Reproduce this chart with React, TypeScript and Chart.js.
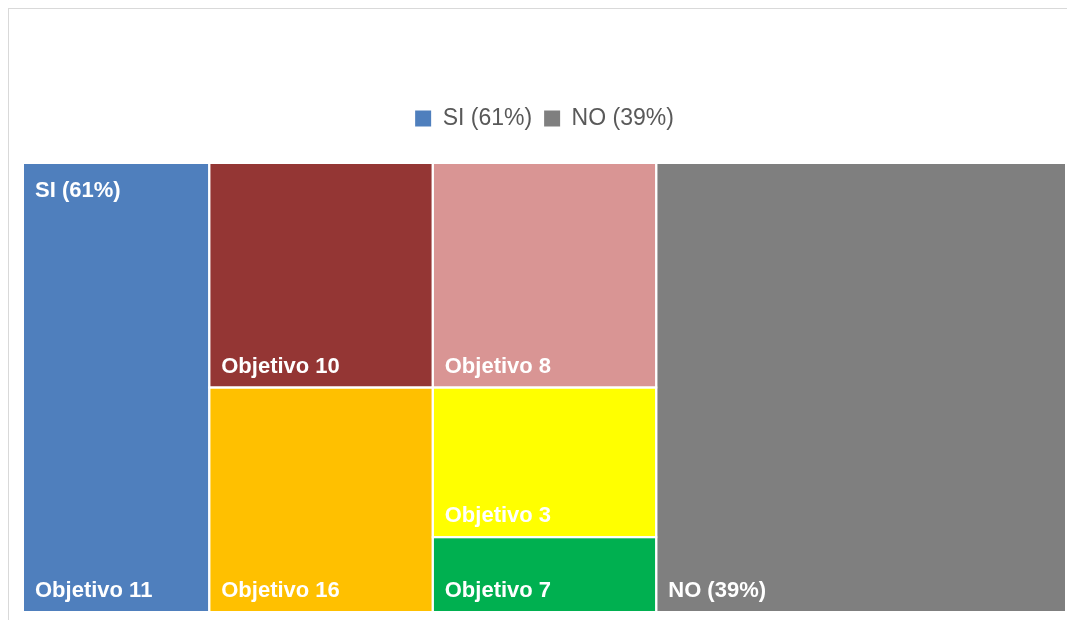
import React, { useEffect, useRef } from "react";
import { Chart, registerables } from "chart.js";

Chart.register(...registerables);

// ---- data ----
const groupLabels = ["SI (61%)", "NO (39%)"];
const groupColors = ["#4F7FBD", "#7F7F7F"];
const noValue = 11;
const siItems = ["Objetivo 11", "Objetivo 10", "Objetivo 16", "Objetivo 8", "Objetivo 3", "Objetivo 7"];
const siValues = [5, 3, 3, 3, 2, 1];
const siColors = ["#4F7FBD", "#943634", "#FFC000", "#D99594", "#FFFF00", "#00B050"];
// treemap grouping of SI leaves into columns (indices into siItems)
const siColumns = [[0], [1, 2], [3, 4, 5]];

const FONT = '"Liberation Sans", Arial, Helvetica, sans-serif';

const sum = (a: number[]) => a.reduce((s, v) => s + v, 0);

const treemapPlugin = {
  id: "treemapCells",
  beforeInit(chart: any) {
    const legend = chart.legend;
    if (legend) {
      const orig = legend.fit;
      legend.fit = function () {
        orig.call(this);
        this.height += 23;
      };
    }
  },
  afterDatasetsDraw(chart: any) {
    const { ctx, scales } = chart;
    const xs = scales.x;
    const ys = scales.y;
    const siTotal = sum(siValues);
    const total = siTotal + noValue;
    const px = (v: number) => xs.getPixelForValue(v);
    const py = (f: number) => ys.getPixelForValue(1 - f);

    type Cell = { x0: number; x1: number; y0: number; y1: number; color: string; label: string };
    const cells: Cell[] = [];
    let cx = 0;
    siColumns.forEach((col) => {
      const colSum = sum(col.map((i) => siValues[i]));
      let cy = 0;
      col.forEach((i) => {
        const f = siValues[i] / colSum;
        cells.push({
          x0: px(cx),
          x1: px(cx + colSum),
          y0: py(cy),
          y1: py(cy + f),
          color: siColors[i],
          label: siItems[i],
        });
        cy += f;
      });
      cx += colSum;
    });
    cells.push({
      x0: px(siTotal),
      x1: px(total),
      y0: py(0),
      y1: py(1),
      color: groupColors[1],
      label: groupLabels[1],
    });

    ctx.save();
    cells.forEach((c) => {
      ctx.fillStyle = c.color;
      ctx.fillRect(c.x0, c.y0, c.x1 - c.x0, c.y1 - c.y0);
    });
    ctx.strokeStyle = "#FFFFFF";
    ctx.lineWidth = 2;
    cells.forEach((c) => {
      ctx.strokeRect(c.x0, c.y0, c.x1 - c.x0, c.y1 - c.y0);
    });
    ctx.fillStyle = "#FFFFFF";
    ctx.font = `bold 22px ${FONT}`;
    ctx.textAlign = "left";
    ctx.textBaseline = "alphabetic";
    cells.forEach((c) => {
      ctx.fillText(c.label, c.x0 + 12, c.y1 - 15);
    });
    // parent label
    ctx.textBaseline = "top";
    ctx.fillText(groupLabels[0], px(0) + 12, py(0) + 17);
    ctx.restore();
  },
};

export default function App() {
  const ref = useRef<HTMLCanvasElement | null>(null);
  useEffect(() => {
    if (!ref.current) return;
    const chart = new Chart(ref.current, {
      type: "scatter",
      data: {
        datasets: [
          { label: groupLabels[0], data: [], backgroundColor: groupColors[0], borderColor: groupColors[0], borderWidth: 0 },
          { label: groupLabels[1], data: [], backgroundColor: groupColors[1], borderColor: groupColors[1], borderWidth: 0 },
        ],
      },
      options: {
        responsive: false,
        animation: false,
        devicePixelRatio: 1,
        layout: { padding: { top: 86, left: 14, right: 11, bottom: 17 } },
        scales: {
          x: { type: "linear", min: 0, max: sum(siValues) + noValue, offset: false, display: false },
          y: { type: "linear", min: 0, max: 1, offset: false, display: false },
        },
        plugins: {
          legend: {
            position: "top",
            onClick: () => {},
            labels: {
              boxWidth: 16,
              boxHeight: 16,
              padding: 12,
              color: "#595959",
              font: { size: 23, family: FONT },
            },
          },
          tooltip: { enabled: false },
        },
      },
      plugins: [treemapPlugin],
    } as any);
    return () => chart.destroy();
  }, []);
  return (
    <div
      style={{
        position: "fixed",
        left: 8,
        top: 8,
        width: 1068,
        height: 640,
        border: "1px solid #D9D9D9",
        background: "#FFFFFF",
      }}
    >
      <canvas ref={ref} width={1068} height={620} style={{ display: "block", width: 1068, height: 620 }} />
    </div>
  );
}
